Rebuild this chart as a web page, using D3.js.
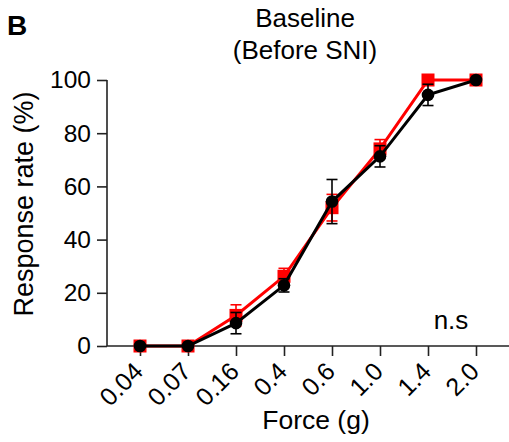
<!DOCTYPE html>
<html>
<head>
<meta charset="utf-8">
<script src="https://cdn.jsdelivr.net/npm/d3@7"></script>
<style>
  html, body { margin: 0; padding: 0; background: #fff; }
  svg { display: block; font-family: "Liberation Sans", Arial, sans-serif; }
</style>
</head>
<body>
<svg id="chart" width="509" height="442"></svg>
<script>
// ---- data ----
const forces = ["0.04", "0.07", "0.16", "0.4", "0.6", "1.0", "1.4", "2.0"];
const redMean = [0, 0, 11.5, 26.2, 52, 74.1, 100, 100];
const redErr  = [0, 0, 4, 3, 5, 3.5, 0, 0];
const blackMean = [0, 0, 8.6, 22.8, 54.3, 71.3, 94.4, 100];
const blackErr  = [0, 0, 4, 2.5, 8.3, 4, 4, 0];
const yTicks = [0, 20, 40, 60, 80, 100];

const svg = d3.select("#chart");
const x = d3.scalePoint().domain(forces).range([107, 509]).padding(0.6875);
const y = d3.scaleLinear().domain([0, 100]).range([346, 80]);

const axisColor = "#222";

// y axis
const yAxis = svg.append("g").attr("transform", "translate(107,0)")
  .call(d3.axisLeft(y).tickValues(yTicks).tickSize(10).tickPadding(6));
yAxis.select(".domain").attr("stroke", axisColor).attr("stroke-width", 1.6)
  .attr("d", `M0,${y(100)}V${y(0)}`);
yAxis.selectAll(".tick line").attr("stroke", axisColor).attr("stroke-width", 1.6);
yAxis.selectAll(".tick text").attr("font-size", 24.5).attr("fill", "#000")
  .attr("font-family", "Liberation Sans, Arial, sans-serif");

// x axis
const xAxis = svg.append("g").attr("transform", "translate(0,346)")
  .call(d3.axisBottom(x).tickSize(10).tickSizeOuter(0));
xAxis.select(".domain").attr("stroke", axisColor).attr("stroke-width", 1.6)
  .attr("d", `M107,0H509`);
xAxis.selectAll(".tick line").attr("stroke", axisColor).attr("stroke-width", 1.6);
xAxis.selectAll(".tick text")
  .attr("font-size", 25).attr("fill", "#000")
  .attr("font-family", "Liberation Sans, Arial, sans-serif")
  .attr("text-anchor", "end")
  .attr("x", 0).attr("y", 0).attr("dy", 0)
  .attr("transform", "translate(4,27) rotate(-45)");

function drawSeries(mean, err, color, shape) {
  const g = svg.append("g");
  const pts = forces.map((f, i) => ({ f, m: mean[i], e: err[i] }));
  // error bars
  const eb = g.selectAll(".eb").data(pts.filter(d => d.e > 0)).enter().append("g");
  eb.append("line")
    .attr("x1", d => x(d.f)).attr("x2", d => x(d.f))
    .attr("y1", d => y(d.m - d.e)).attr("y2", d => y(d.m + d.e))
    .attr("stroke", color).attr("stroke-width", 1.6);
  [1, -1].forEach(s => {
    eb.append("line")
      .attr("x1", d => x(d.f) - 5.5).attr("x2", d => x(d.f) + 5.5)
      .attr("y1", d => y(d.m + s * d.e)).attr("y2", d => y(d.m + s * d.e))
      .attr("stroke", color).attr("stroke-width", 1.6);
  });
  // line
  g.append("path").datum(pts)
    .attr("fill", "none").attr("stroke", color).attr("stroke-width", 3)
    .attr("d", d3.line().x(d => x(d.f)).y(d => y(d.m)));
  // markers
  if (shape === "square") {
    g.selectAll(".mk").data(pts).enter().append("rect")
      .attr("x", d => x(d.f) - 6.5).attr("y", d => y(d.m) - 6.5)
      .attr("width", 13).attr("height", 13).attr("fill", color);
  } else {
    g.selectAll(".mk").data(pts).enter().append("circle")
      .attr("cx", d => x(d.f)).attr("cy", d => y(d.m)).attr("r", 6.3)
      .attr("fill", color);
  }
}

drawSeries(redMean, redErr, "#ff0000", "square");
drawSeries(blackMean, blackErr, "#000000", "circle");

// texts
svg.append("text").attr("x", 7).attr("y", 35).attr("font-size", 28)
  .attr("font-weight", "bold").text("B");
svg.append("text").attr("x", 305).attr("y", 27).attr("font-size", 26)
  .attr("text-anchor", "middle").text("Baseline");
svg.append("text").attr("x", 305).attr("y", 59).attr("font-size", 26)
  .attr("text-anchor", "middle").text("(Before SNI)");
svg.append("text").attr("transform", "translate(33,204) rotate(-90)")
  .attr("font-size", 27).attr("text-anchor", "middle").text("Response rate (%)");
svg.append("text").attr("x", 316).attr("y", 429).attr("font-size", 26.5)
  .attr("text-anchor", "middle").text("Force (g)");
svg.append("text").attr("x", 451).attr("y", 329).attr("font-size", 26)
  .attr("text-anchor", "middle").text("n.s");
</script>
</body>
</html>
